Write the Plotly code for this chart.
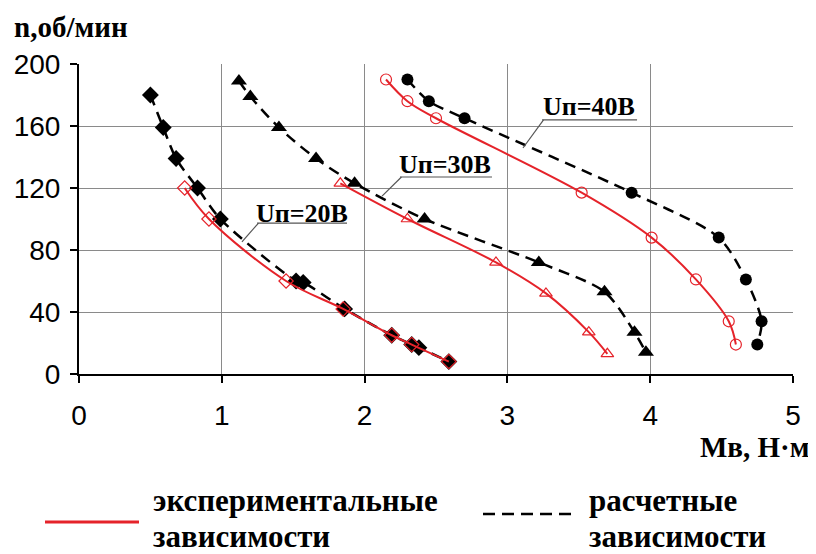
import plotly.graph_objects as go

# ---- data ----
m20_calc = [0.50, 0.59, 0.68, 0.83, 0.99, 1.52, 1.57, 1.86, 2.19, 2.33, 2.38, 2.59]
n20_calc = [180, 159, 139, 120, 100, 60, 59, 42, 25, 19, 17, 8]
m20_exp = [0.74, 0.91, 1.45, 1.85, 2.19, 2.33, 2.59]
n20_exp = [120, 100, 60, 42, 25, 19, 8]

m30_calc = [1.12, 1.20, 1.40, 1.66, 1.93, 2.42, 3.22, 3.68, 3.89, 3.97]
n30_calc = [189, 179, 159, 139, 123, 100, 72, 53, 27, 14]
m30_exp = [1.83, 2.30, 2.92, 3.27, 3.57, 3.70]
n30_exp = [123, 100, 72, 52, 27, 13]

m40_calc = [2.30, 2.45, 2.70, 3.87, 4.48, 4.67, 4.78, 4.75]
n40_calc = [190, 176, 165, 117, 88, 61, 34, 19]
m40_exp = [2.15, 2.30, 2.50, 3.52, 4.01, 4.32, 4.55, 4.60]
n40_exp = [190, 176, 165, 117, 88, 61, 34, 19]

x_ticks = [0, 1, 2, 3, 4, 5]
y_ticks = [0, 40, 80, 120, 160, 200]
voltage_labels = ["Uп=20В", "Uп=30В", "Uп=40В"]
legend_labels = ["экспериментальные<br>зависимости", "расчетные<br>зависимости"]

RED = "#e5232a"
SERIF = "Liberation Serif, Times New Roman, serif"
SANS = "Liberation Sans, Arial, sans-serif"

fig = go.Figure()

def add_exp(x, y, symbol):
    fig.add_trace(go.Scatter(
        x=x, y=y, mode="lines+markers",
        line=dict(color=RED, width=2, shape="spline", smoothing=1.0),
        marker=dict(symbol=symbol, size=11, color=RED, line=dict(color=RED, width=1.2)),
        showlegend=False, hoverinfo="x+y"))

def add_calc(x, y, symbol, size):
    fig.add_trace(go.Scatter(
        x=x, y=y, mode="lines+markers",
        line=dict(color="black", width=2.5, dash="11px,7px", shape="spline", smoothing=0.8),
        marker=dict(symbol=symbol, size=size, color="black"),
        showlegend=False, hoverinfo="x+y"))

add_calc(m20_calc, n20_calc, "diamond", 13)
add_exp(m20_exp, n20_exp, "diamond-open")
add_calc(m30_calc, n30_calc, "triangle-up", 14)
add_exp(m30_exp, n30_exp, "triangle-up-open")
add_calc(m40_calc, n40_calc, "circle", 12)
add_exp(m40_exp, n40_exp, "circle-open")

# ---- voltage labels with underline and leader ----
label_specs = [
    # text center x, y ; underline x0, x1, y ; leader end x, y
    (1.56, 103.5, 1.247, 1.877, 97.4, 1.141, 85.2),
    (2.563, 135.0, 2.248, 2.892, 127.1, 2.122, 114.8),
    (3.571, 172.5, 3.243, 3.908, 163.9, 3.109, 145.8),
]
for txt, (tx, ty, ux0, ux1, uy, lx, ly) in zip(voltage_labels, label_specs):
    fig.add_annotation(x=tx, y=ty, xref="x", yref="y", text="<b>%s</b>" % txt,
                       showarrow=False, xanchor="center", yanchor="middle",
                       font=dict(family=SERIF, size=26, color="black"))
    fig.add_shape(type="line", x0=ux0, x1=ux1, y0=uy, y1=uy, xref="x", yref="y",
                  line=dict(color="#555555", width=1.2))
    fig.add_shape(type="line", x0=ux0 + 0.01, x1=lx, y0=uy, y1=ly, xref="x", yref="y",
                  line=dict(color="#555555", width=1.2))

# ---- geometry (page has an 8px body margin) ----
OFF = 8
W, H = 808, 546
L, R, T, B = 71, 23, 56, 180
pw, ph = W - L - R, H - T - B

def px(x):
    return (x - OFF - L) / pw

def py(y):
    return (H - B - (y - OFF)) / ph

fig.add_annotation(x=px(12), y=py(27), xref="paper", yref="paper",
                   text="<b>n,об/мин</b>", showarrow=False, xanchor="left", yanchor="middle",
                   font=dict(family=SERIF, size=29, color="black"))
fig.add_annotation(x=px(812), y=py(447), xref="paper", yref="paper",
                   text="<b>Мв, Н·м</b>", showarrow=False, xanchor="right", yanchor="middle",
                   font=dict(family=SERIF, size=29, color="black"))

# ---- custom legend ----
fig.add_shape(type="line", xref="paper", yref="paper", x0=px(45), x1=px(139),
              y0=py(522), y1=py(522), line=dict(color=RED, width=3))
fig.add_shape(type="line", xref="paper", yref="paper", x0=px(483), x1=px(575),
              y0=py(514), y1=py(514), line=dict(color="black", width=2.5, dash="12px,7px"))
for lx, lbl in zip([152, 588], legend_labels):
    l1, l2 = lbl.split("<br>")
    fig.add_annotation(x=px(lx), y=py(500), xref="paper", yref="paper",
                       text="<b>%s</b>" % l1, showarrow=False, xanchor="left", yanchor="middle",
                       font=dict(family=SERIF, size=31, color="black"), borderpad=0)
    fig.add_annotation(x=px(lx), y=py(536), xref="paper", yref="paper",
                       text="<b>%s</b>" % l2, showarrow=False, xanchor="left", yanchor="middle",
                       font=dict(family=SERIF, size=31, color="black"), borderpad=0)

axis_common = dict(showline=True, linecolor="black", linewidth=2,
                   showgrid=True, gridcolor="#8a8a8a", gridwidth=1,
                   ticks="outside", ticklen=7, tickcolor="black", tickwidth=1.5,
                   zeroline=False, tickfont=dict(family=SANS, size=28, color="black"),
                   fixedrange=True)

fig.update_xaxes(range=[0, 5], tickvals=x_ticks, ticktext=[str(v) for v in x_ticks],
                 ticklabelstandoff=8, **axis_common)
fig.update_yaxes(range=[0, 200], tickvals=y_ticks, ticktext=[str(v) for v in y_ticks],
                 ticklabelstandoff=4, **axis_common)

fig.update_layout(width=W, height=H, margin=dict(l=L, r=R, t=T, b=B, pad=0, autoexpand=False),
                  plot_bgcolor="white", paper_bgcolor="white", showlegend=False)

fig.write_html("out.html")
